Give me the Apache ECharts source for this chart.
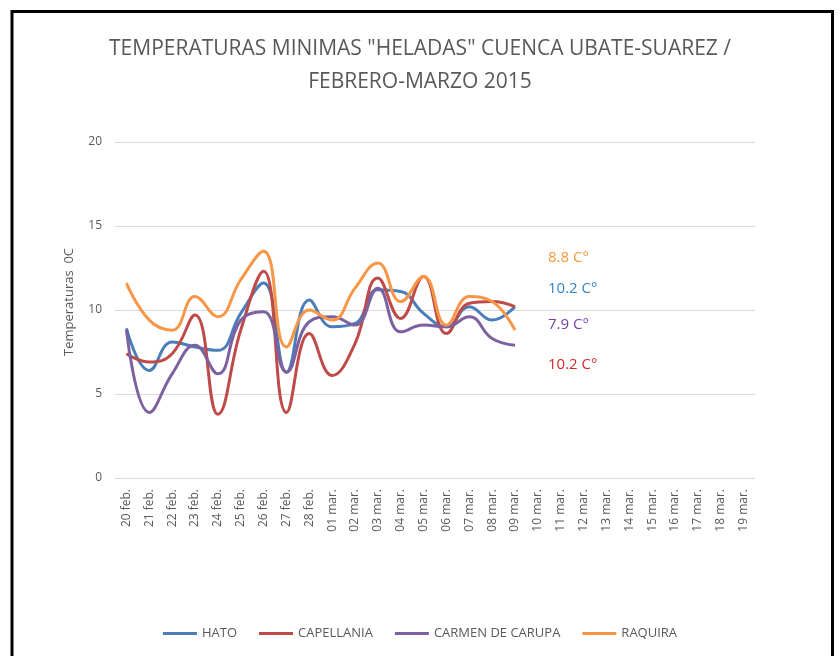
<!DOCTYPE html>
<html>
<head>
<meta charset="utf-8">
<script src="https://cdn.jsdelivr.net/npm/echarts@6/dist/echarts.min.js"></script>
<style>
  html, body { margin: 0; padding: 0; background: #fff; }
  #chart { width: 840px; height: 656px; }
</style>
</head>
<body>
<div id="chart"></div>
<script>
// categorias (dias)
const days = ['20 feb.', '21 feb.', '22 feb.', '23 feb.', '24 feb.', '25 feb.', '26 feb.', '27 feb.', '28 feb.',
  '01 mar.', '02 mar.', '03 mar.', '04 mar.', '05 mar.', '06 mar.', '07 mar.', '08 mar.', '09 mar.',
  '10 mar.', '11 mar.', '12 mar.', '13 mar.', '14 mar.', '15 mar.', '16 mar.', '17 mar.', '18 mar.', '19 mar.']

// temperaturas minimas por estacion
const hato = [8.9, 6.4, 8.1, 7.8, 7.6, 9.8, 11.6, 6.3, 10.6, 9.0, 9.2, 11.2, 11.1, 9.8, 9.0, 10.2, 9.4, 10.2]
const capellania = [7.4, 6.9, 7.4, 9.7, 3.8, 8.8, 12.3, 3.9, 8.6, 6.1, 8.0, 11.9, 9.5, 12.0, 8.6, 10.4, 10.5, 10.2]
const carmen = [8.8, 3.9, 6.2, 7.9, 6.2, 9.4, 9.9, 6.3, 9.3, 9.6, 9.1, 11.3, 8.7, 9.1, 9.0, 9.6, 8.3, 7.9]
const raquira = [11.6, 9.4, 8.8, 10.8, 9.6, 11.8, 13.5, 7.8, 10.0, 9.4, 11.3, 12.8, 10.5, 12.0, 9.1, 10.8, 10.5, 8.8]

const yTicks = { min: 0, max: 20, interval: 5 }

const textGrey = '#595959'
const font = '"Open Sans", sans-serif'

const chart = echarts.init(document.getElementById('chart'))

const mkSeries = (name, data, color) => ({
  name,
  type: 'line',
  data,
  smooth: 0.45,
  symbol: 'none',
  lineStyle: { color, width: 3 },
  itemStyle: { color }
})

// etiquetas del ultimo valor
const notes = [
  { val: raquira[raquira.length - 1], color: '#F39A3A', top: 250 },
  { val: hato[hato.length - 1], color: '#2F86CF', top: 281 },
  { val: carmen[carmen.length - 1], color: '#7A3FA8', top: 317 },
  { val: capellania[capellania.length - 1], color: '#D42A2A', top: 357 }
]

chart.setOption({
  animation: false,
  backgroundColor: '#fff',
  title: {
    text: 'TEMPERATURAS MINIMAS "HELADAS" CUENCA UBATE-SUAREZ /\nFEBRERO-MARZO 2015',
    left: 'center',
    top: 28,
    textStyle: { color: textGrey, fontSize: 21, fontWeight: 'normal', fontFamily: font, lineHeight: 33 }
  },
  legend: {
    bottom: 11,
    left: 'center',
    icon: 'rect',
    itemWidth: 34,
    itemHeight: 3,
    itemGap: 22,
    textStyle: { color: textGrey, fontSize: 13, fontFamily: font },
    data: ['HATO', 'CAPELLANIA', 'CARMEN DE CARUPA', 'RAQUIRA']
  },
  grid: { left: 115, right: 85, top: 142, bottom: 178, containLabel: false },
  xAxis: {
    type: 'category',
    data: days,
    boundaryGap: true,
    axisLine: { show: false },
    axisTick: { show: false },
    axisLabel: { rotate: 90, interval: 0, color: textGrey, fontSize: 12, margin: 11, fontFamily: font }
  },
  yAxis: {
    type: 'value',
    min: yTicks.min,
    max: yTicks.max,
    interval: yTicks.interval,
    name: 'Temperaturas  0C',
    nameLocation: 'middle',
    nameGap: 39,
    nameTextStyle: { color: textGrey, fontSize: 13, fontFamily: font, padding: [0, 0, 0, 16] },
    axisLine: { show: false },
    axisTick: { show: false },
    axisLabel: { color: textGrey, fontSize: 12, margin: 13, fontFamily: font },
    splitLine: { lineStyle: { color: '#D9D9D9', width: 1 } }
  },
  series: [
    mkSeries('HATO', hato, '#4A7EBB'),
    mkSeries('CAPELLANIA', capellania, '#BE4B48'),
    mkSeries('CARMEN DE CARUPA', carmen, '#7D60A0'),
    mkSeries('RAQUIRA', raquira, '#F79646')
  ],
  graphic: [
    {
      type: 'rect',
      silent: true,
      shape: { x: 12, y: 11.5, width: 820.5, height: 700 },
      style: { fill: 'none', stroke: '#000', lineWidth: 3 }
    },
    ...notes.map(n => ({
      type: 'text',
      left: 548,
      top: n.top,
      style: { text: n.val.toFixed(1) + ' C°', fill: n.color, fontSize: 15, fontFamily: font }
    }))
  ]
})
</script>
</body>
</html>
